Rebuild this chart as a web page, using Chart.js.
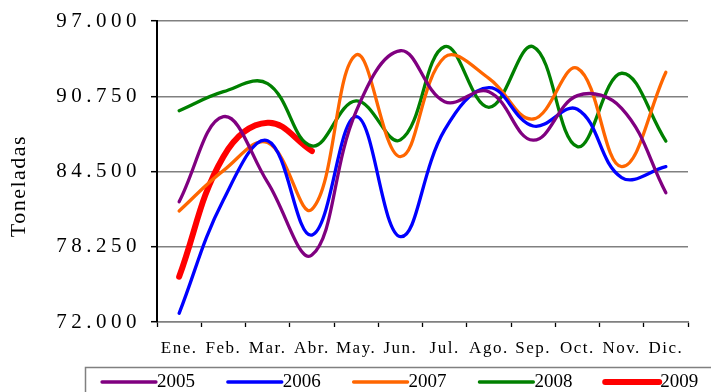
<!DOCTYPE html>
<html>
<head>
<meta charset="utf-8">
<script src="https://cdn.jsdelivr.net/npm/chart.js@4/dist/chart.umd.min.js"></script>
<style>
  body { margin: 0; background: #fff; }
  canvas { display: block; }
</style>
</head>
<body>
<canvas id="myChart" width="711" height="392"></canvas>
<script>
/* data (toneladas) */
const months = ['Ene.', 'Feb.', 'Mar.', 'Abr.', 'May.', 'Jun.', 'Jul.', 'Ago.', 'Sep.', 'Oct.', 'Nov.', 'Dic.'];
const years = ['2005', '2006', '2007', '2008', '2009'];
const yTicks = [72000, 78250, 84500, 90750, 97000];

const data2005 = [81990, 89050, 83600, 77560, 89500, 94530, 90300, 91130, 87100, 90800, 89750, 82740];
const data2006 = [72720, 82130, 87060, 79220, 89050, 79090, 87950, 91460, 88280, 89670, 84000, 84900];
const data2007 = [81220, 84570, 86900, 81360, 94180, 85730, 94000, 92240, 88860, 93070, 84900, 92740];
const data2008 = [89550, 91130, 91800, 86620, 90360, 87120, 94870, 89830, 94870, 86560, 92660, 87030];
const data2009 = [75760, 85730, 88550, 86200];

const colors = ['#800080', '#0000ff', '#ff6600', '#008000', '#ff0000'];
const widths = [3.3, 3.3, 3.3, 3.3, 6];

const serif = '"Liberation Serif", "DejaVu Serif", serif';

function fmt(v) {
  return v.toLocaleString('de-DE', {minimumFractionDigits: 0});
}

/* y labels, axis title and legend drawn by hand (letter spacing, frame) */
const extras = {
  id: 'extras',
  beforeDraw(chart) {
    chart.ctx.letterSpacing = '1.5px';
  },
  afterDraw(chart) {
    const ctx = chart.ctx;
    const y = chart.scales.y;
    ctx.save();
    ctx.fillStyle = '#000';

    // y tick labels
    ctx.font = '21px ' + serif;
    ctx.letterSpacing = '4.5px';
    ctx.textAlign = 'right';
    ctx.textBaseline = 'middle';
    yTicks.forEach(function(v) {
      ctx.fillText(fmt(v), 141, y.getPixelForValue(v));
    });

    // axis title
    ctx.save();
    ctx.letterSpacing = '1.5px';
    ctx.font = '22px ' + serif;
    ctx.translate(19, 186);
    ctx.rotate(-Math.PI / 2);
    ctx.textAlign = 'center';
    ctx.fillText('Toneladas', 0, 0);
    ctx.restore();

    // legend
    ctx.letterSpacing = '0px';
    ctx.strokeStyle = '#808080';
    ctx.lineWidth = 1.5;
    ctx.strokeRect(85.5, 367.5, 700, 40);
    ctx.font = '19px ' + serif;
    ctx.textAlign = 'left';
    ctx.textBaseline = 'alphabetic';
    chart.data.datasets.forEach(function(ds, i) {
      const x0 = 102 + i * 125.8;
      ctx.strokeStyle = ds.borderColor;
      ctx.lineWidth = ds.borderWidth;
      ctx.lineCap = 'round';
      ctx.beginPath();
      ctx.moveTo(x0, 382);
      ctx.lineTo(x0 + 54, 382);
      ctx.stroke();
      ctx.fillText(ds.label, x0 + 55, 387);
    });
    ctx.restore();
  }
};

const seriesData = [data2005, data2006, data2007, data2008, data2009];

var ctx = document.getElementById('myChart').getContext('2d');

// eslint-disable-next-line no-undef
var chart = new Chart(ctx, {
  type: 'line',
  data: {
    labels: months,
    datasets: years.map(function(year, i) {
      return {
        label: year,
        data: seriesData[i],
        borderColor: colors[i],
        backgroundColor: colors[i],
        borderWidth: widths[i],
        pointRadius: 0,
        tension: 0.4,
        fill: false,
        borderCapStyle: 'round',
        borderJoinStyle: 'round'
      };
    })
  },
  options: {
    responsive: false,
    animation: false,
    devicePixelRatio: 1,
    layout: { padding: { left: 0, right: 23, top: 21, bottom: 30 } },
    plugins: {
      legend: { display: false },
      tooltip: { enabled: false },
      title: { display: false }
    },
    scales: {
      x: {
        offset: true,
        grid: {
          offset: true,
          drawOnChartArea: false,
          drawTicks: true,
          tickLength: 5,
          tickColor: '#000',
          tickWidth: 1.3
        },
        border: { color: '#808080', width: 1.5 },
        ticks: {
          color: '#000',
          font: { family: serif, size: 17 },
          padding: 11,
          maxRotation: 0,
          autoSkip: false
        },
        afterFit: function(scale) { scale.height = 40; }
      },
      y: {
        min: 72000,
        max: 97000,
        afterBuildTicks: function(scale) {
          scale.ticks = yTicks.map(function(v) { return {value: v}; });
        },
        grid: {
          color: '#808080',
          lineWidth: 1.4,
          tickLength: 6,
          tickColor: '#000',
          tickWidth: 1.5
        },
        border: { color: '#000', width: 2 },
        ticks: { display: false },
        afterFit: function(scale) { scale.width = 157; }
      }
    }
  },
  plugins: [extras]
});
</script>
</body>
</html>
